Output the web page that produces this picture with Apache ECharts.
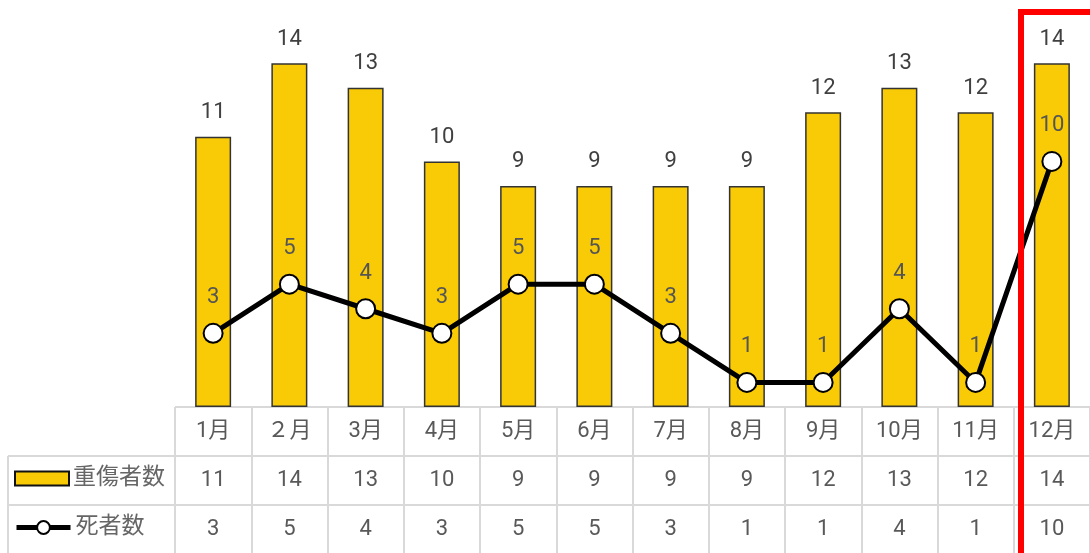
<!DOCTYPE html>
<html>
<head>
<meta charset="utf-8">
<style>
  html, body { margin: 0; padding: 0; background: #fff; }
  #chart { width: 1090px; height: 553px; }
</style>
<script src="https://cdn.jsdelivr.net/npm/echarts@6/dist/echarts.min.js"></script>
</head>
<body>
<div id="chart"></div>
<script>
const months = ['1月', '２月', '3月', '4月', '5月', '6月', '7月', '8月', '9月', '10月', '11月', '12月'];
const seriousInjuries = [11, 14, 13, 10, 9, 9, 9, 9, 12, 13, 12, 14];
const deaths = [3, 5, 4, 3, 5, 5, 3, 1, 1, 4, 1, 10];
const seriesNames = ['重傷者数', '死者数'];

const FONT = "Roboto, 'Noto Sans CJK JP', sans-serif";
const TEXT = '#595959';
const RULE = '#d9d9d9';
const GRID_LEFT = 175, GRID_BOTTOM_Y = 407, ROW_H = 49;

const chart = echarts.init(document.getElementById('chart'));

function tableAxis(offset, formatter, showTicks) {
  return {
    type: 'category',
    data: months,
    position: 'bottom',
    offset: offset,
    axisLine: { show: false },
    axisTick: showTicks ? { show: true, interval: 0, length: 146, lineStyle: { color: RULE, width: 2 } } : { show: false },
    axisLabel: { interval: 0, margin: 13, fontSize: 22, color: TEXT, fontFamily: FONT, formatter: formatter },
    splitLine: { show: false }
  };
}

const option = {
  animation: false,
  backgroundColor: '#fff',
  grid: { left: GRID_LEFT, right: -6, top: 14, bottom: 553 - GRID_BOTTOM_Y, containLabel: false },
  xAxis: [
    tableAxis(0, v => v, true),
    tableAxis(ROW_H, (v, i) => String(seriousInjuries[i]), false),
    tableAxis(ROW_H * 2, (v, i) => String(deaths[i]), false)
  ],
  yAxis: { type: 'value', min: 0, max: 16, show: false },
  legend: [
    {
      data: [seriesNames[0]], left: 9, top: 462, icon: 'rect',
      itemWidth: 54, itemHeight: 14, itemGap: 0,
      textStyle: { fontSize: 23, color: '#666', fontFamily: FONT, padding: [0, 0, 0, -1] },
      itemStyle: { borderColor: '#111', borderWidth: 2 }
    },
    {
      data: [seriesNames[1]], left: 9, top: 511,
      itemWidth: 54, itemHeight: 16, itemGap: 0,
      textStyle: { fontSize: 23, color: '#666', fontFamily: FONT, padding: [0, 0, 0, 0] },
      lineStyle: { width: 5, color: '#000' },
      itemStyle: { color: '#fff', borderColor: '#000', borderWidth: 2 }
    }
  ],
  series: [
    {
      name: seriesNames[0],
      type: 'bar',
      data: seriousInjuries,
      barWidth: 36,
      itemStyle: { color: '#F9CB06', borderColor: '#333', borderWidth: 1.5 },
      label: { show: true, position: 'top', distance: 13, fontSize: 22, color: '#404040', fontFamily: FONT },
      z: 2
    },
    {
      name: seriesNames[1],
      type: 'line',
      data: deaths,
      symbol: 'circle',
      symbolSize: 19,
      lineStyle: { color: '#000', width: 5 },
      itemStyle: { color: '#fff', borderColor: '#000', borderWidth: 2 },
      label: { show: true, position: 'top', distance: 14, fontSize: 22, color: '#555', fontFamily: FONT },
      z: 3
    }
  ],
  graphic: [
    { type: 'line', shape: { x1: GRID_LEFT, y1: GRID_BOTTOM_Y, x2: 1100, y2: GRID_BOTTOM_Y }, style: { stroke: RULE, lineWidth: 2 }, z: 1 },
    { type: 'line', shape: { x1: 8, y1: GRID_BOTTOM_Y + ROW_H, x2: 1100, y2: GRID_BOTTOM_Y + ROW_H }, style: { stroke: RULE, lineWidth: 2 }, z: 1 },
    { type: 'line', shape: { x1: 8, y1: GRID_BOTTOM_Y + ROW_H * 2, x2: 1100, y2: GRID_BOTTOM_Y + ROW_H * 2 }, style: { stroke: RULE, lineWidth: 2 }, z: 1 },
    { type: 'line', shape: { x1: 8, y1: GRID_BOTTOM_Y + ROW_H, x2: 8, y2: 560 }, style: { stroke: RULE, lineWidth: 2 }, z: 1 },
    { type: 'rect', shape: { x: 1021, y: 12, width: 200, height: 700 }, style: { stroke: '#ff0000', lineWidth: 6, fill: 'none' }, z: 100 }
  ]
};
chart.setOption(option);
</script>
</body>
</html>
